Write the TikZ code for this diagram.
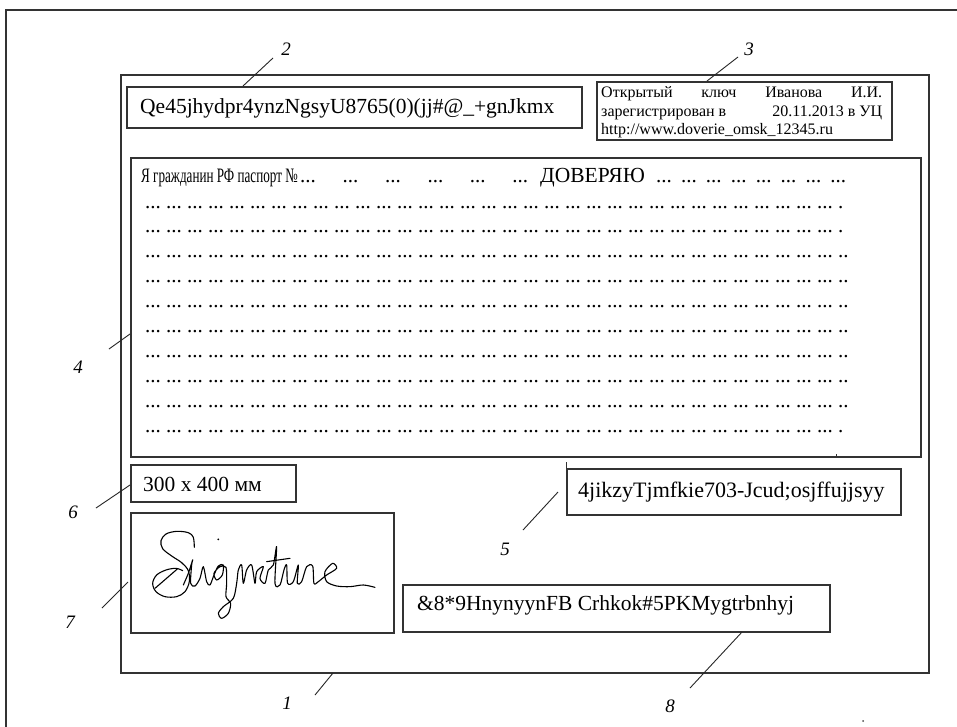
\documentclass[tikz,border=0pt]{standalone}
\usepackage{fontspec}
\setmainfont{Liberation Serif}
\usetikzlibrary{calc}
\newcommand\sxs[2]{\scalebox{#1}[1]{#2}}
\frenchspacing
\begin{document}
\begin{tikzpicture}[x=1pt,y=-1pt,
  box/.style={draw=black!80, line width=1.5pt, rectangle, inner sep=0pt, anchor=north west},
  lbl/.style={font=\fontsize{19}{19}\selectfont\itshape, fill=white, inner sep=4pt},
  leader/.style={line width=0.9pt, black!85},
  txt/.style={font=\fontsize{21.5}{24}\selectfont, anchor=base west, inner sep=0pt},
  small/.style={font=\fontsize{16}{18}\selectfont, anchor=base west, inner sep=0pt},
  dots/.style={font=\fontsize{21}{24}\selectfont, anchor=base west, inner sep=0pt},
  sig/.style={line width=1.1pt, black, line join=round, line cap=round},
]
\useasboundingbox (0,0) rectangle (957,726);
\fill[white] (0,0) rectangle (957,726);
% outer frame
\draw[line width=1.5pt, black!80] (957,10) -- (6,10) -- (6,727);
% document
\node[box, minimum width=808pt, minimum height=598pt] (doc) at (120,74) {};
% box 2
\node[box, minimum width=455pt, minimum height=41pt] (b2) at (126,86) {};
\node[txt] (t2) at (140,113) {Qe45jhydpr4ynzNgsyU8765(0)(jj\#@\_+gnJkmx};
% box 3
\node[box, minimum width=295pt, minimum height=58pt] (b3) at (596,81) {};
\node[small] (t3a) at (601,97.5) {\makebox[281pt][s]{Открытый ключ Иванова И.И.}};
\node[small] (t3b) at (601,116) {\makebox[281pt]{зарегистрирован в\hfill 20.11.2013 в УЦ}};
\node[small] (t3c) at (601,134.5) {http://www.doverie\_omsk\_12345.ru};
% main box 4
\node[box, minimum width=790pt, minimum height=299pt] (b4) at (130,157) {};
\node[anchor=base west, inner sep=0pt, font=\fontsize{20.5}{22}\selectfont] (t4a) at (141,182) {\sxs{0.64}{Я гражданин РФ паспорт №}};
\node[dots] (t4b) at (300,182) {\makebox[228pt][s]{... ... ... ... ... ...}};
\node[txt] (t4c) at (540,182) {ДОВЕРЯЮ};
\node[dots] (t4d) at (656,182) {\makebox[190pt][s]{... ... ... ... ... ... ... ...}};
\foreach \i/\e in {1/.,2/.,3/..,4/..,5/..,6/..,7/..,8/..,9/..,10/.}{
  \node[dots] (row\i) at (145,{208+24.9*(\i-1)}) {... ... ... ... ... ... ... ... ... ... ... ... ... ... ... ... ... ... ... ... ... ... ... ... ... ... ... ... ... ... ... ... ... \e};
}
% box 6
\node[box, minimum width=165pt, minimum height=37pt] (b6) at (130,464) {};
\node[txt] (t6) at (143,491) {300 x 400 мм};
% box 7 signature
\node[box, minimum width=263pt, minimum height=120pt] (b7) at (130,512) {};
\begin{scope}[shift={(60,450)}, scale=0.3333]
\draw[sig] plot[smooth, tension=0.55] coordinates {(403,292) (400,262) (385,248) (350,244) (318,252) (303,272) (308,296) (335,318) (365,338) (385,362) (388,395) (375,425) (350,440) (315,440) (288,425) (278,400) (290,375) (318,360) (348,355) (368,362)};
\draw[sig] (285,415) -- (352,357);
\draw[sig] plot[smooth, tension=0.5] coordinates {(370,405) (385,370) (398,330) (395,345) (392,400) (405,408) (420,385) (430,350) (440,395) (450,405) (462,375) (475,348) (490,345) (487,375) (470,390) (462,370) (480,350) (498,352) (500,400) (498,440) (512,460) (505,490) (485,505) (475,490) (490,470) (520,445) (530,400) (535,360) (545,345) (550,400) (560,360) (575,345) (585,400) (590,365) (610,350) (600,385) (615,400) (625,360) (640,345) (650,290) (645,400) (660,405) (672,360) (680,345) (683,400) (700,395) (715,345) (712,400) (725,395) (740,350) (758,348) (762,400) (775,395) (800,375) (830,355) (818,340) (795,365) (800,395) (830,408) (870,410) (910,405) (945,412)};
\draw[sig] (620,335) -- (690,325);
\fill (475,268) circle (3);
\end{scope}
% box 5
\node[box, minimum width=334pt, minimum height=46pt] (b5) at (566,468) {};
\node[txt, font=\fontsize{22}{24}\selectfont] (t5) at (578,497) {4jikzyTjmfkie703-Jcud;osjffujjsyy};
\draw[line width=1pt, black!80] (b5.north west) -- ++(0,-6);
% box 8
\node[box, minimum width=427pt, minimum height=47pt] (b8) at (402,584) {};
\node[txt] (t8) at (417,610) {\&8*9HnynyynFB Crhkok\#5PKMygtrbnhyj};
% small artefacts
\draw[line width=0.8pt, black!80] ($(b4.south west)+(706,0)$) -- ++(0,-4);
\fill[black!70] (863,721) circle (1);
% labels
\node[lbl] (n1) at (287,703) {1};
\node[lbl] (n2) at (286,49) {2};
\node[lbl] (n3) at (749,49) {3};
\node[lbl] (n4) at (78,367) {4};
\node[lbl] (n5) at (505,549) {5};
\node[lbl] (n6) at (73,512) {6};
\node[lbl] (n7) at (70,622) {7};
\node[lbl] (n8) at (670,706) {8};
% leader ends
\coordinate (c1a) at (315,695); \coordinate (c1b) at (333,673);
\coordinate (c2a) at (273,58);  \coordinate (c2b) at (243,86);
\coordinate (c3a) at (738,57);  \coordinate (c3b) at (707,81);
\coordinate (c4a) at (109,349); \coordinate (c4b) at (130,334);
\coordinate (c5a) at (523,530); \coordinate (c5b) at (558,492);
\coordinate (c6a) at (96,508);  \coordinate (c6b) at (130,485);
\coordinate (c7a) at (102,608); \coordinate (c7b) at (128,582);
\coordinate (c8a) at (690,688); \coordinate (c8b) at (742,632);
\foreach \k in {1,...,8}{\draw[leader] (c\k a) -- (c\k b);}
\end{tikzpicture}
\end{document}
